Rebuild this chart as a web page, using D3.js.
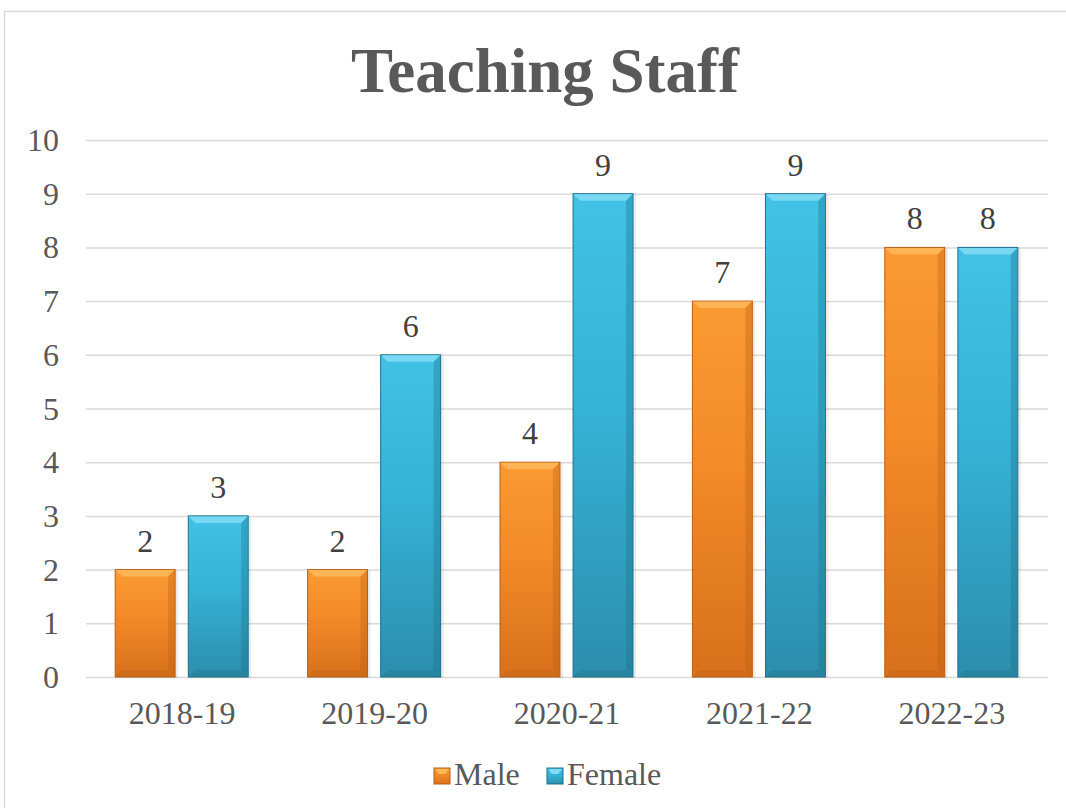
<!DOCTYPE html>
<html>
<head>
<meta charset="utf-8">
<script src="https://cdn.jsdelivr.net/npm/d3@7"></script>
<style>
  body { margin: 0; background: #fff; }
  svg { display: block; }
  text { font-family: "Liberation Serif", "Times New Roman", serif; }
</style>
</head>
<body>
<div id="chart"></div>
<script>
  'use strict';

  // chart values
  var years = ['2018-19', '2019-20', '2020-21', '2021-22', '2022-23'];
  var series = ['Male', 'Female'];
  var male = [2, 2, 4, 7, 8];
  var female = [3, 6, 9, 9, 8];
  var yTicks = [0, 1, 2, 3, 4, 5, 6, 7, 8, 9, 10];

  var width = 1066, height = 808;
  var plot = { left: 86, right: 1048, top: 140, bottom: 677 };

  var svg = d3.select('#chart').append('svg')
    .attr('width', width)
    .attr('height', height);

  // chart border (cut off on right and bottom like the source)
  svg.append('rect')
    .attr('x', 4.5).attr('y', 11.5)
    .attr('width', 1100).attr('height', 900)
    .attr('fill', '#fff')
    .attr('stroke', '#d9d9d9')
    .attr('stroke-width', 1.5);

  var defs = svg.append('defs');
  var palette = {
    Male:   { top: '#fb9a32', mid: '#f28a28', bot: '#d8701c', edge: '#b85f15', bevel: '#ffb75a' },
    Female: { top: '#41c2e6', mid: '#36b2d6', bot: '#2b8eac', edge: '#1f6f88', bevel: '#7fdcf4' }
  };
  series.forEach(function(s) {
    var g = defs.append('linearGradient').attr('id', 'grad-' + s)
      .attr('x1', 0).attr('y1', 0).attr('x2', 0).attr('y2', 1);
    g.append('stop').attr('offset', '0%').attr('stop-color', palette[s].top);
    g.append('stop').attr('offset', '45%').attr('stop-color', palette[s].mid);
    g.append('stop').attr('offset', '100%').attr('stop-color', palette[s].bot);
  });

  var x = d3.scaleBand().domain(years).range([plot.left, plot.right]);
  var sub = d3.scaleBand().domain(series).range([-67, 66]).paddingInner(0.18);
  var y = d3.scaleLinear().domain([0, 10]).range([plot.bottom, plot.top]);

  // gridlines
  svg.append('g').selectAll('line').data(yTicks).enter().append('line')
    .attr('x1', plot.left).attr('x2', plot.right)
    .attr('y1', function(d) { return y(d) + 0.5; })
    .attr('y2', function(d) { return y(d) + 0.5; })
    .attr('stroke', '#d9d9d9')
    .attr('stroke-width', 1.5);

  // y axis labels
  svg.append('g').selectAll('text').data(yTicks).enter().append('text')
    .attr('x', 59)
    .attr('y', function(d) { return y(d) + 11; })
    .attr('text-anchor', 'end')
    .attr('font-size', 32)
    .attr('fill', '#595959')
    .text(function(d) { return d; });

  // x axis labels
  svg.append('g').selectAll('text').data(years).enter().append('text')
    .attr('x', function(d) { return x(d) + x.bandwidth() / 2; })
    .attr('y', 724)
    .attr('text-anchor', 'middle')
    .attr('font-size', 32)
    .attr('fill', '#595959')
    .text(function(d) { return d; });

  var rows = [];
  years.forEach(function(yr, i) {
    rows.push({ year: yr, s: 'Male', v: male[i] });
    rows.push({ year: yr, s: 'Female', v: female[i] });
  });

  var bev = 7;
  var bars = svg.append('g').selectAll('g').data(rows).enter().append('g')
    .attr('transform', function(d) {
      return 'translate(' + (x(d.year) + x.bandwidth() / 2 + sub(d.s)) + ',' + y(d.v) + ')';
    });

  // soft shadow
  bars.append('rect')
    .attr('x', 1).attr('y', 1)
    .attr('width', sub.bandwidth() + 2)
    .attr('height', function(d) { return y(0) - y(d.v); })
    .attr('fill', 'rgba(0,0,0,0.08)');

  bars.append('rect')
    .attr('width', sub.bandwidth())
    .attr('height', function(d) { return y(0) - y(d.v); })
    .attr('fill', function(d) { return 'url(#grad-' + d.s + ')'; })
    .attr('stroke', function(d) { return palette[d.s].edge; })
    .attr('stroke-width', 1);

  // top bevel
  bars.append('path')
    .attr('d', function() {
      var w = sub.bandwidth();
      return 'M0.5,0.5 L' + (w - 0.5) + ',0.5 L' + (w - bev) + ',' + bev + ' L' + bev + ',' + bev + ' Z';
    })
    .attr('fill', function(d) { return palette[d.s].bevel; })
    .attr('opacity', 0.9);

  // side bevels (darker)
  bars.append('path')
    .attr('d', function(d) {
      var w = sub.bandwidth(), h = y(0) - y(d.v);
      return 'M' + (w - 0.5) + ',0.5 L' + (w - 0.5) + ',' + (h - 0.5) + ' L' + (w - bev) + ',' + (h - bev) + ' L' + (w - bev) + ',' + bev + ' Z';
    })
    .attr('fill', function(d) { return palette[d.s].edge; })
    .attr('opacity', 0.35);
  bars.append('path')
    .attr('d', function(d) {
      var w = sub.bandwidth(), h = y(0) - y(d.v);
      return 'M0.5,' + (h - 0.5) + ' L' + (w - 0.5) + ',' + (h - 0.5) + ' L' + (w - bev) + ',' + (h - bev) + ' L' + bev + ',' + (h - bev) + ' Z';
    })
    .attr('fill', function(d) { return palette[d.s].edge; })
    .attr('opacity', 0.3);

  // data labels
  bars.append('text')
    .attr('x', sub.bandwidth() / 2)
    .attr('y', -18)
    .attr('text-anchor', 'middle')
    .attr('font-size', 32)
    .attr('fill', '#404040')
    .text(function(d) { return d.v; });

  // title
  svg.append('text')
    .attr('x', 545).attr('y', 92)
    .attr('text-anchor', 'middle')
    .attr('font-size', 63)
    .attr('font-weight', 'bold')
    .attr('fill', '#595959')
    .text('Teaching Staff');

  // legend
  var legendX = [434, 547];
  var legend = svg.append('g').selectAll('g').data(series).enter().append('g')
    .attr('transform', function(d, i) { return 'translate(' + legendX[i] + ',768)'; });
  legend.append('rect')
    .attr('width', 16).attr('height', 16)
    .attr('fill', function(d) { return 'url(#grad-' + d + ')'; })
    .attr('stroke', function(d) { return palette[d].edge; });
  legend.append('path')
    .attr('d', 'M1,1 L15,1 L11,6 L5,6 Z')
    .attr('fill', function(d) { return palette[d].bevel; });
  legend.append('text')
    .attr('x', 20).attr('y', 17)
    .attr('font-size', 32)
    .attr('fill', '#595959')
    .text(function(d) { return d; });
</script>
</body>
</html>
